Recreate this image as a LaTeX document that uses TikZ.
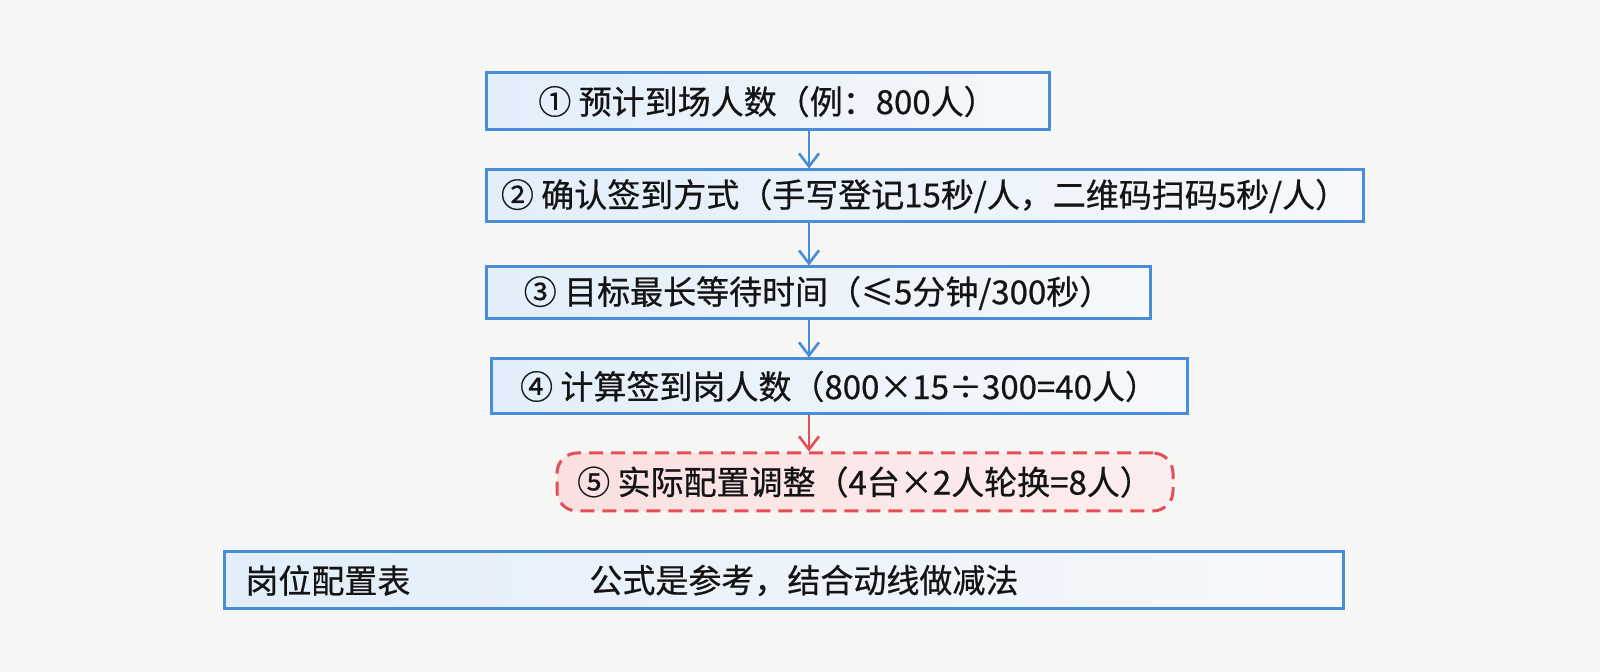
\documentclass[tikz,border=0pt]{standalone}
\usepackage{fontspec}
\setmainfont{Noto Sans CJK SC}[FakeBold=0.6]
\usetikzlibrary{arrows.meta}
\definecolor{bg}{RGB}{246,246,245}
\definecolor{pencilblue}{RGB}{72,140,218}
\definecolor{lightblue}{RGB}{226,238,250}
\definecolor{paleblue}{RGB}{246,248,251}
\definecolor{pencilred}{RGB}{228,78,88}
\definecolor{pinkfill}{RGB}{250,224,224}
\tikzset{
  stepbox/.style={draw=pencilblue, line width=1.5pt, left color=lightblue, right color=paleblue,
    inner sep=0pt, font=\fontsize{16.5pt}{19pt}\selectfont, text=black!92},
  adjustbox/.style={draw=pencilred, line width=1.5pt, dash pattern=on 7pt off 4pt, rounded corners=10pt,
    left color=pinkfill, right color=pinkfill!55!white, inner sep=0pt,
    font=\fontsize{16.5pt}{19pt}\selectfont, text=black!92},
  tabletext/.style={anchor=west, inner sep=0pt, font=\fontsize{16.5pt}{19pt}\selectfont, text=black!92},
  flowarrow/.style={draw=pencilblue, line width=1.3pt, -{Straight Barb[length=6.5pt,width=10pt]}},
  redarrow/.style={draw=pencilred, line width=1.3pt, -{Straight Barb[length=6.5pt,width=10pt]}}
}
\begin{document}
\begin{tikzpicture}[x=0.5pt,y=-0.5pt]
\fill[bg] (0,0) rectangle (1600,672);
\useasboundingbox (0,0) rectangle (1600,672);
\coordinate (ax) at (809,0);
\node[stepbox, minimum width=281.5pt, minimum height=28.5pt] (b1) at (767.5,101.5) {① 预计到场人数（例：800人）};
\node[stepbox, minimum width=438.5pt, minimum height=26pt] (b2) at (924.5,196) {② 确认签到方式（手写登记15秒/人，二维码扫码5秒/人）};
\node[stepbox, minimum width=332pt, minimum height=26pt] (b3) at (818,293) {③ 目标最长等待时间（≤5分钟/300秒）};
\node[stepbox, minimum width=348pt, minimum height=27.5pt] (b4) at (839,386.5) {④ 计算签到岗人数（800×15÷300=40人）};
\node[adjustbox, minimum width=308pt, minimum height=29pt] (b5) at (865,482) {⑤ 实际配置调整（4台×2人轮换=8人）};
\node[stepbox, minimum width=559.5pt, minimum height=28.5pt] (tbl) at (783.5,580.5) {};
\node[tabletext] (t1) at (245,580.5) {岗位配置表};
\node[tabletext] (t2) at (589,580.5) {公式是参考，结合动线做减法};
\draw[flowarrow] (b1.south -| ax) -- (b2.north -| ax);
\draw[flowarrow] (b2.south -| ax) -- (b3.north -| ax);
\draw[flowarrow] (b3.south -| ax) -- (b4.north -| ax);
\draw[redarrow] (b4.south -| ax) -- (b5.north -| ax);
\end{tikzpicture}
\end{document}
